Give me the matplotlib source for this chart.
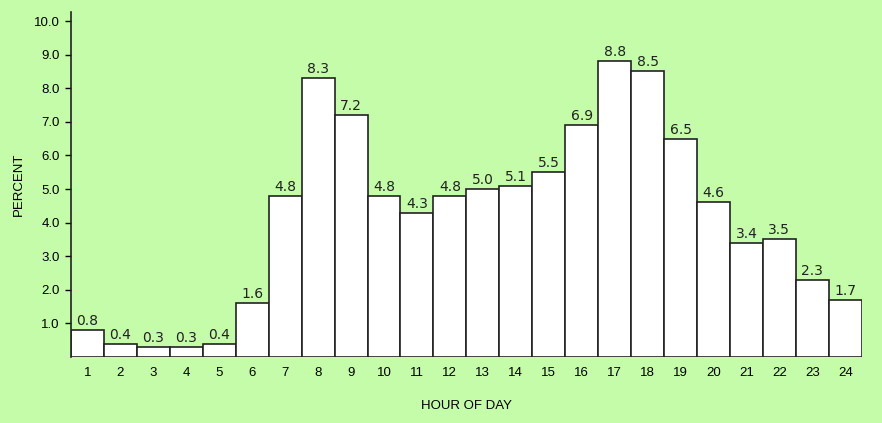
import matplotlib.pyplot as plt
import numpy as np

hours = list(range(1, 25))
percent = [0.8, 0.4, 0.3, 0.3, 0.4, 1.6, 4.8, 8.3, 7.2, 4.8, 4.3, 4.8,
           5.0, 5.1, 5.5, 6.9, 8.8, 8.5, 6.5, 4.6, 3.4, 3.5, 2.3, 1.7]
yticks = [1.0, 2.0, 3.0, 4.0, 5.0, 6.0, 7.0, 8.0, 9.0, 10.0]

bg = '#c4fcaa'
fig = plt.figure(figsize=(8.82, 4.23), dpi=100, facecolor=bg)
ax = fig.add_axes([0.0805, 0.156, 0.8965, 0.8156])
ax.set_facecolor(bg)

bars = ax.bar(hours, percent, width=1.0, color='white', edgecolor='#222222', linewidth=1.2)
for h, p in zip(hours, percent):
    ax.text(h, p + 0.06, f"{p:.1f}", ha='center', va='bottom', fontsize=10,
            family='DejaVu Sans', color='#222222')

ax.set_xlim(0.5, 24.5)
ax.set_ylim(0, 10.27)
ax.set_xticks(hours)
ax.set_xticklabels([str(h) for h in hours], fontsize=9.5, family='Liberation Sans')
ax.tick_params(axis='x', length=0, pad=7)
ax.set_yticks(yticks)
ax.set_yticklabels([f"{t:.1f}" for t in yticks], fontsize=9.5, family='Liberation Sans')
ax.tick_params(axis='y', length=4, width=1, direction='out', pad=4)

for s in ['top', 'right', 'bottom']:
    ax.spines[s].set_visible(False)
ax.spines['left'].set_linewidth(1.2)
ax.spines['left'].set_color('#222222')

ax.set_xlabel("HOUR OF DAY", fontsize=9.5, family='Liberation Sans', labelpad=15)
ax.set_ylabel("PERCENT", fontsize=9.5, family='Liberation Sans')
ax.yaxis.set_label_coords(-0.058, 0.5)

fig.savefig("out.png", dpi=100, facecolor=bg)
